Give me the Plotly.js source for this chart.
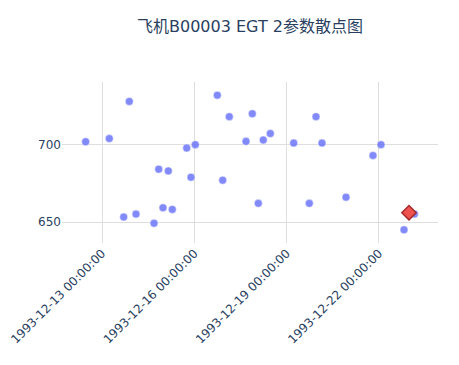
<!DOCTYPE html>
<html>
<head>
<meta charset="utf-8">
<script src="https://cdn.plot.ly/plotly-3.0.1.min.js"></script>
<style>html,body{margin:0;padding:0;background:#fff;}</style>
</head>
<body>
<div id="chart" style="width:459px;height:365px;"></div>
<script>
const times = [
  "1993-12-12 11:15","1993-12-13 05:41","1993-12-13 21:17","1993-12-13 16:55","1993-12-14 02:31",
  "1993-12-14 16:34","1993-12-14 20:14","1993-12-15 03:43","1993-12-14 23:34","1993-12-15 06:50",
  "1993-12-15 18:04","1993-12-16 00:46","1993-12-15 21:25","1993-12-16 17:56","1993-12-17 03:17",
  "1993-12-16 22:08","1993-12-17 16:19","1993-12-17 21:14","1993-12-18 01:55","1993-12-18 05:48",
  "1993-12-18 11:17","1993-12-19 05:31","1993-12-19 22:55","1993-12-20 03:36","1993-12-19 17:41",
  "1993-12-20 22:19","1993-12-21 19:22","1993-12-22 01:36","1993-12-22 19:33","1993-12-23 03:40"
];
const egt = [
  701.7,703.7,727.6,653.2,655.1,
  649.2,684.0,682.9,659.2,658.1,
  697.6,699.8,678.8,731.6,717.8,
  676.9,701.9,719.7,662.0,702.8,
  706.9,700.8,717.8,700.8,662.0,
  666.0,692.8,699.8,645.0,655.1
];
const highlightTime = ["1993-12-22 23:27"];
const highlightEgt = [656.0];

const traces = [
  {
    x: times, y: egt, type: "scatter", mode: "markers",
    marker: {color: "#636efa", opacity: 0.8, size: 8, line: {color: "#ffffff", width: 0.5}},
    showlegend: false
  },
  {
    x: highlightTime, y: highlightEgt, type: "scatter", mode: "markers",
    marker: {color: "#ef5350", symbol: "diamond", size: 11, line: {color: "#a52a2a", width: 1.5}},
    showlegend: false
  }
];

const layout = {
  width: 459, height: 365,
  margin: {l: 62, r: 21, t: 82, b: 122},
  paper_bgcolor: "#ffffff", plot_bgcolor: "#ffffff",
  font: {family: "DejaVu Sans, Noto Sans CJK SC, sans-serif", color: "#2a3f5f", size: 12},
  title: {text: "飞机B00003 EGT 2参数散点图", x: 0.5, xref: "paper", y: 0.929, yanchor: "middle", yref: "container", font: {size: 16, color: "#2a3f5f"}},
  xaxis: {
    type: "date",
    range: ["1993-12-11 16:48", "1993-12-23 22:04"],
    tick0: "1993-12-13", dtick: 3*86400000,
    tickformat: "%Y-%m-%d %H:%M:%S", tickangle: -45,
    showgrid: true, gridcolor: "#dedede", zeroline: false, showline: false, ticks: ""
  },
  yaxis: {
    range: [636.5, 740.1],
    tickvals: [650, 700],
    showgrid: true, gridcolor: "#dedede", zeroline: false, showline: false, ticks: ""
  }
};

Plotly.newPlot("chart", traces, layout, {displayModeBar: false, staticPlot: true});
</script>
</body>
</html>
